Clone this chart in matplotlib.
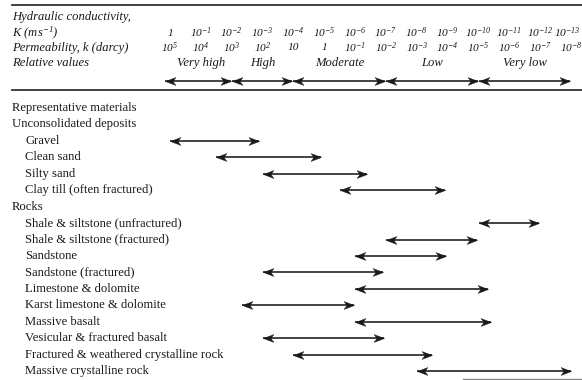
import numpy as np
import matplotlib
matplotlib.use("Agg")
import matplotlib.pyplot as plt
from matplotlib.path import Path

plt.rcParams['font.family'] = ['Liberation Serif', 'DejaVu Serif']
plt.rcParams['mathtext.fontset'] = 'custom'
plt.rcParams['mathtext.rm'] = 'Liberation Serif:italic'
plt.rcParams['mathtext.it'] = 'Liberation Serif:italic'

# ---- data ----
# decades of hydraulic conductivity K (m/s): 10^0 ... 10^-13
k_exponents = list(range(0, -14, -1))
k_labels = ['1'] + [r'$10^{%d}$' % e for e in k_exponents[1:]]
perm_exponents = [e + 5 for e in k_exponents]
perm_labels = []
for e in perm_exponents:
    if e == 1:
        perm_labels.append('10')
    elif e == 0:
        perm_labels.append('1')
    else:
        perm_labels.append(r'$10^{%d}$' % e)

relative_names = ['Very high', 'High', 'Moderate', 'Low', 'Very low']
relative_bounds = [0, -2, -4, -7, -10, -13]   # log10 K boundaries

materials = ['Gravel', 'Clean sand', 'Silty sand', 'Clay till (often fractured)',
             'Shale & siltstone (unfractured)', 'Shale & siltstone (fractured)',
             'Sandstone', 'Sandstone (fractured)', 'Limestone & dolomite',
             'Karst limestone & dolomite', 'Massive basalt',
             'Vesicular & fractured basalt', 'Fractured & weathered crystalline rock',
             'Massive crystalline rock']
# log10 K ranges (upper, lower)
log_k_high = [0.0, -1.5, -3.0, -5.5, -10.0, -7.0, -6.0, -3.0, -6.0, -2.35, -6.0, -3.0, -4.0, -8.0]
log_k_low = [-2.9, -4.9, -6.4, -8.9, -11.95, -9.95, -8.95, -6.9, -10.3, -5.95, -10.4, -6.95, -8.5, -13.0]

groups = ['Unconsolidated deposits', 'Rocks']
group_sizes = [4, 10]

# ---- layout ----
W, H = 582, 380
fig = plt.figure(figsize=(W / 100, H / 100), dpi=100)
ax = fig.add_axes([0, 0, 1, 1])
ax.set_xscale('log')
px_per_dec = 30.85
x0 = 170
ax.set_xlim(10 ** (x0 / px_per_dec), 10 ** (-(W - x0) / px_per_dec))
ax.set_ylim(H, 0)
ax.axis('off')

fs = 9.1
fs_tick = 8.2
col = '#1a1a1a'
lx = 12 / W
ix = 25 / W

# stealth arrowhead markers
head_r = Path([(0, 0), (-1, 0.38), (-0.72, 0), (-1, -0.38), (0, 0)],
              [Path.MOVETO, Path.LINETO, Path.LINETO, Path.LINETO, Path.CLOSEPOLY])
head_l = Path([(0, 0), (1, 0.38), (0.72, 0), (1, -0.38), (0, 0)],
              [Path.MOVETO, Path.LINETO, Path.LINETO, Path.LINETO, Path.CLOSEPOLY])

def darrow(a, b, y, ms=15):
    xa, xb = 10 ** a, 10 ** b
    ax.plot([xa, xb], [y, y], color=col, lw=1.15, solid_capstyle='butt', clip_on=False)
    ax.plot([xa], [y], marker=head_l, ms=ms, color=col, mec=col, mew=0.3, ls='none', clip_on=False)
    ax.plot([xb], [y], marker=head_r, ms=ms, color=col, mec=col, mew=0.3, ls='none', clip_on=False)

# rules
xl = 10 ** ((x0 - 12) / px_per_dec)
xr = 10 ** (-(W - x0) / px_per_dec)
ax.plot([xl, xr], [5, 5], color='#333333', lw=1.3, clip_on=False)
ax.plot([xl, xr], [89.5, 89.5], color='#333333', lw=1.3, clip_on=False)
ax.plot([10 ** (-(463 - x0) / px_per_dec), xr], [379, 379], color='#888888', lw=1.0, clip_on=False)

# header
yh = [17, 33, 48, 63]
ytr = ax.get_yaxis_transform()
ax.text(lx, yh[0], 'Hydraulic conductivity,', transform=ytr, fontsize=fs, style='italic', va='center', color=col)
ax.text(lx, yh[1], r'K (ms$^{-1}$)', transform=ytr, fontsize=fs, style='italic', va='center', color=col)
ax.text(lx, yh[2], 'Permeability, k (darcy)', transform=ytr, fontsize=fs, style='italic', va='center', color=col)
ax.text(lx, yh[3], 'Relative values', transform=ytr, fontsize=fs, style='italic', va='center', color=col)

n_cols = len(k_exponents)
for j, (e, lab) in enumerate(zip(k_exponents, k_labels)):
    off = -2.5 if j == n_cols - 1 else 0
    ax.annotate(lab, (10.0 ** e, yh[1]), xytext=(off, 0), textcoords='offset points',
                fontsize=fs_tick, style='italic', ha='center', va='center', color=col,
                annotation_clip=False)
for j, (e, lab) in enumerate(zip(k_exponents, perm_labels)):
    ax.annotate(lab, (10.0 ** e, yh[2]), xytext=(0, 0), textcoords='offset points',
                fontsize=fs_tick, style='italic', ha='center', va='center', color=col,
                annotation_clip=False)

for i, name in enumerate(relative_names):
    a, b = relative_bounds[i], relative_bounds[i + 1]
    ax.text(10 ** ((a + b) / 2), yh[3], name, fontsize=fs, style='italic', ha='center', va='center', color=col)
    darrow(a + (0.15 if i == 0 else 0.0), b + 0.03, 81, ms=15)

# materials section
row0 = 108
dy = 16.44
ax.text(lx, row0, 'Representative materials', transform=ytr, fontsize=fs, va='center', color=col)
r = 1
mi = 0
for g, n in zip(groups, group_sizes):
    ax.text(lx, row0 + r * dy, g, transform=ytr, fontsize=fs, va='center', color=col)
    r += 1
    for _ in range(n):
        y = row0 + r * dy
        ax.text(ix, y, materials[mi], transform=ytr, fontsize=fs, va='center', color=col)
        darrow(log_k_high[mi], log_k_low[mi], y)
        mi += 1
        r += 1

fig.savefig('out.png', dpi=100, facecolor='white')
